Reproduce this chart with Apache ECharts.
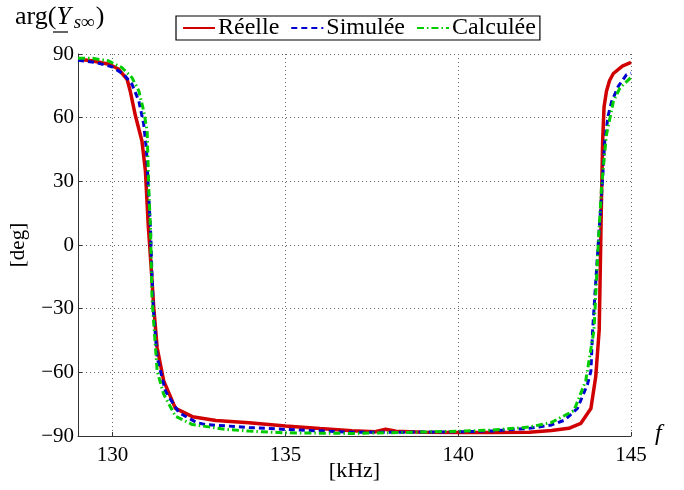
<!DOCTYPE html>
<html>
<head>
<meta charset="utf-8">
<script src="https://cdn.jsdelivr.net/npm/echarts@6/dist/echarts.min.js"></script>
<style>
  html, body { margin: 0; padding: 0; background: #fff; }
  #main { width: 684px; height: 490px; }
</style>
</head>
<body>
<div id="main"></div>
<script>
// frequency [kHz] and phase [deg]
var reelleF = [129.0, 129.4, 129.9, 130.17, 130.42, 130.51, 130.66, 130.85, 130.95, 131.03, 131.13, 131.19, 131.29, 131.48, 131.82, 132.31, 132.99, 133.95, 135.0, 136.0, 136.93, 137.6, 137.9, 138.2, 139.0, 140.1, 141.0, 142.05, 142.7, 143.2, 143.55, 143.84, 143.98, 144.08, 144.15, 144.18, 144.22, 144.29, 144.38, 144.49, 144.75, 145.0]
var reelleArg = [87.5, 86.8, 85.2, 82.9, 78.1, 72.6, 61, 49, 35, 10, -13.8, -29, -48.4, -64, -77, -80.9, -82.7, -83.8, -85.3, -86.5, -87.5, -88, -86.8, -87.8, -88.2, -88.3, -88.4, -88.2, -87.4, -86.4, -84, -77, -62, -40, 25, 49, 65, 72.4, 77.5, 80.8, 84.3, 86]

var simuleeF = [129.0, 129.5, 129.98, 130.32, 130.56, 130.76, 130.9, 130.98, 131.03, 131.1, 131.14, 131.18, 131.29, 131.53, 131.92, 132.45, 132.7, 133.95, 135.0, 136.93, 138.5, 140.1, 141.0, 142.05, 142.7, 143.08, 143.45, 143.74, 143.84, 143.89, 144.05, 144.18, 144.24, 144.34, 144.44, 144.63, 144.87, 145.0]
var simuleeArg = [87, 86, 84, 80.5, 75.8, 67.9, 57, 45, 28.6, 6.6, -13.8, -30, -53, -68.9, -79, -83.8, -84.6, -86, -86.9, -88.2, -88.2, -88, -87.6, -86.4, -84.8, -82.5, -77, -65.7, -59.4, -40, 0, 31.6, 49, 61, 67.6, 74.7, 80.3, 81]

var calculeeF = [129.0, 129.4, 129.88, 130.27, 130.56, 130.76, 130.9, 131.0, 131.05, 131.1, 131.14, 131.29, 131.48, 131.82, 132.31, 133.28, 133.95, 135.0, 136.93, 138.5, 140.1, 141.0, 142.05, 142.7, 143.35, 143.69, 143.93, 144.05, 144.15, 144.29, 144.49, 144.68, 145.0]
var calculeeArg = [88, 88, 86.8, 83.6, 78.9, 72.6, 63.2, 53.8, 25.5, 6.6, -24.9, -59.4, -70.4, -80.7, -84.6, -86.9, -87.7, -88.5, -88.8, -88.3, -87.7, -87.2, -85.8, -83.6, -78, -64, -40, 0, 28, 52, 67.6, 74, 79]

var xTicks = [130, 135, 140, 145]

function pairs(xs, ys) {
  return xs.map(function (x, i) { return [x, ys[i]] })
}

var serif = 'Liberation Serif'
var gridStyle = { color: '#666', width: 1, type: [1, 3] }

var myChart = echarts.init(document.getElementById('main'))
myChart.setOption({
  animation: false,
  backgroundColor: '#fff',
  grid: { left: 78, right: 53, top: 54, bottom: 54, outerBoundsMode: 'none', containLabel: false },
  legend: {
    left: 176,
    top: 16,
    padding: [0, 4, 0, 6],
    itemGap: 11,
    itemWidth: 32,
    itemHeight: 14,
    borderColor: '#000',
    borderWidth: 1.2,
    backgroundColor: '#fff',
    itemStyle: { opacity: 0 },
    textStyle: { fontFamily: serif, fontSize: 24, color: '#000', padding: [0, 0, 0, -2] },
    data: ['Réelle', 'Simulée', 'Calculée']
  },
  xAxis: {
    type: 'value',
    min: 129,
    max: 145,
    interval: 1,
    name: '[kHz]',
    nameLocation: 'middle',
    nameGap: 24,
    nameMoveOverlap: false,
    nameTextStyle: { fontFamily: serif, fontSize: 22, color: '#000' },
    axisLine: { onZero: false, lineStyle: { color: '#333', width: 1 } },
    axisTick: { inside: true, length: 4, customValues: xTicks, lineStyle: { color: '#333' } },
    axisLabel: { customValues: xTicks, fontFamily: serif, fontSize: 21, color: '#000', margin: 9 },
    splitLine: { show: true, lineStyle: gridStyle }
  },
  yAxis: {
    type: 'value',
    min: -90,
    max: 90,
    interval: 30,
    name: '[deg]',
    nameLocation: 'middle',
    nameGap: 49,
    nameMoveOverlap: false,
    nameTextStyle: { fontFamily: serif, fontSize: 21, color: '#000' },
    axisLine: { show: true, onZero: false, lineStyle: { color: '#333', width: 1 } },
    axisTick: { show: true, inside: true, length: 4, lineStyle: { color: '#333' } },
    axisLabel: {
      fontFamily: serif, fontSize: 21, color: '#000', margin: 4,
      formatter: function (v) { return v < 0 ? '\u2212' + Math.abs(v) : String(v) }
    },
    splitLine: { show: true, lineStyle: gridStyle }
  },
  graphic: [
    {
      type: 'text', left: 15, top: 4,
      style: {
        text: '{a|arg(}{y|Y}{s|s\u221E}{a|)}',
        rich: {
          a: { fontFamily: serif, fontSize: 26, fill: '#000' },
          y: { fontFamily: serif, fontSize: 26, fontStyle: 'italic', fill: '#000' },
          s: { fontFamily: serif, fontSize: 19, fontStyle: 'italic', fill: '#000', padding: [12, 1, 0, 3] }
        }
      }
    },
    { type: 'line', shape: { x1: 53, y1: 32, x2: 68, y2: 32 }, style: { stroke: '#000', lineWidth: 1.2 } },
    {
      type: 'text', left: 655, top: 422,
      style: { text: 'f', fontFamily: serif, fontSize: 24, fontStyle: 'italic', fill: '#000' }
    }
  ],
  series: [
    {
      name: 'Réelle', type: 'line', symbol: 'none', showSymbol: false,
      data: pairs(reelleF, reelleArg),
      itemStyle: { color: '#d00000' },
      lineStyle: { color: '#d00000', width: 3.5 }
    },
    {
      name: 'Simulée', type: 'line', symbol: 'none', showSymbol: false,
      data: pairs(simuleeF, simuleeArg),
      itemStyle: { color: '#0000d0' },
      lineStyle: { color: '#0000d0', width: 3, type: [6, 4] }
    },
    {
      name: 'Calculée', type: 'line', symbol: 'none', showSymbol: false,
      data: pairs(calculeeF, calculeeArg),
      itemStyle: { color: '#00cc00' },
      lineStyle: { color: '#00cc00', width: 3, type: [7, 3, 1.5, 3] }
    }
  ]
})
</script>
</body>
</html>
